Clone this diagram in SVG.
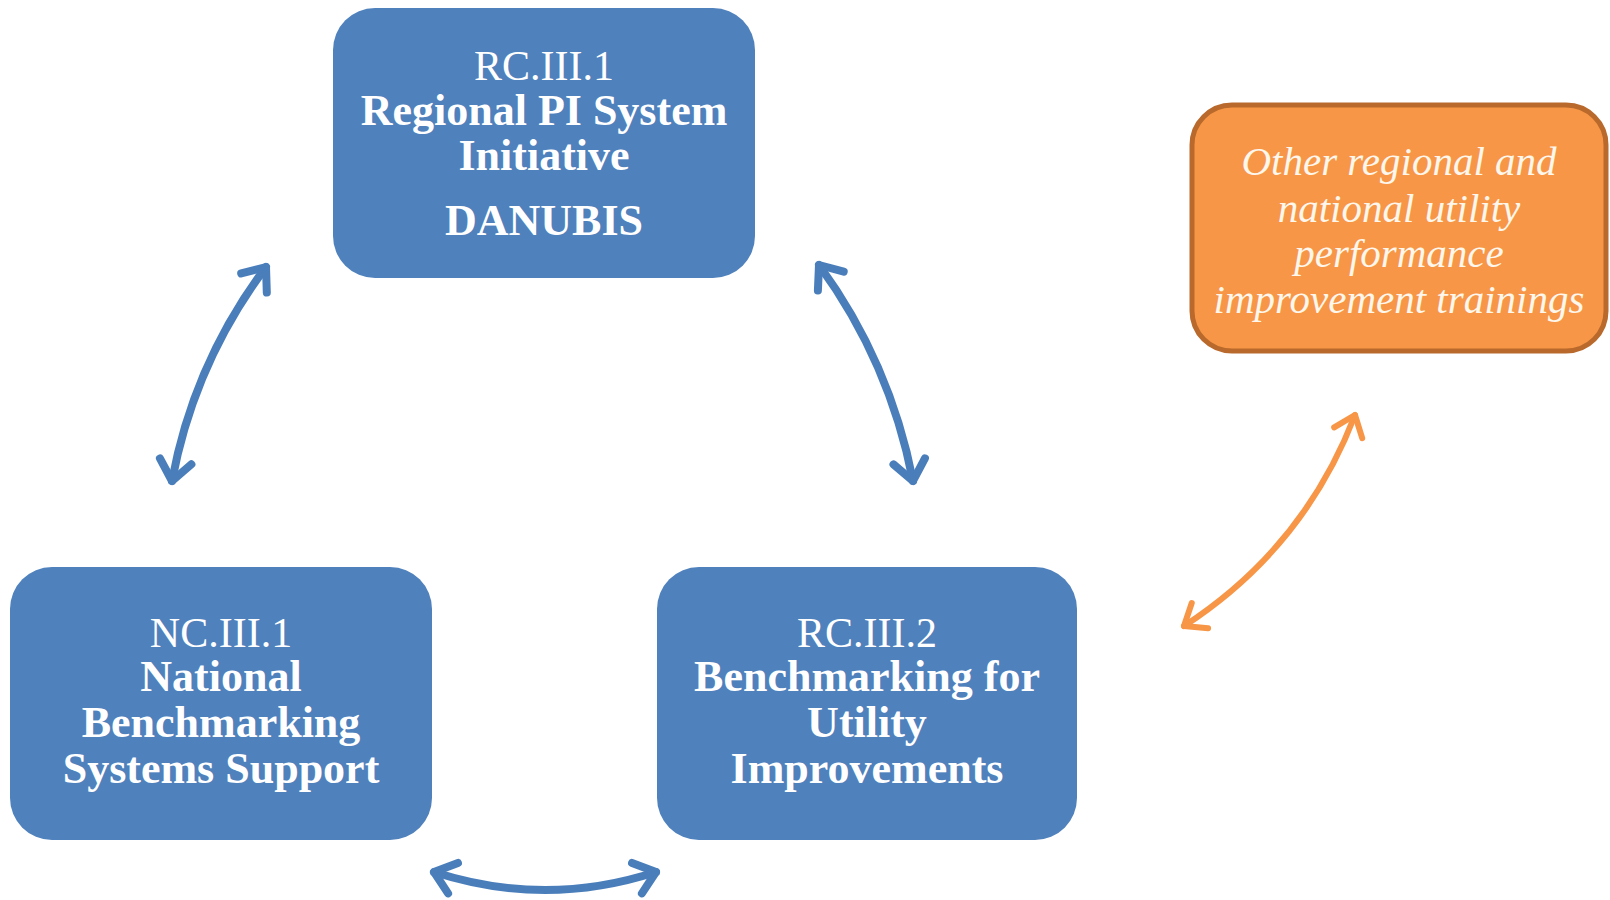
<svg xmlns="http://www.w3.org/2000/svg" width="1610" height="900" viewBox="0 0 1610 900">
<defs>
<style>
.box{fill:#4F81BD;}
.obox{fill:#F79646;stroke:#B9692B;stroke-width:5;}
.t{font-family:"Liberation Serif","Times New Roman",serif;fill:#FFFFFF;text-anchor:middle;}
.r{font-size:42px;font-weight:normal;}
.b{font-size:44px;font-weight:bold;}
.i{font-size:41px;font-style:italic;fill:#FFF7EC;}
.ab{fill:none;stroke:#4A7EBB;stroke-width:8;stroke-linecap:round;}
.ao{fill:none;stroke:#F79646;stroke-width:6;stroke-linecap:round;}
</style>
<marker id="hb" markerUnits="userSpaceOnUse" viewBox="-30 -22 36 44" markerWidth="36" markerHeight="44" refX="0" refY="0" orient="auto-start-reverse">
<path d="M-20,-16 L0,0 L-20,16" fill="none" stroke="#4A7EBB" stroke-width="8" stroke-linecap="round" stroke-linejoin="round"/>
</marker>
<marker id="ho" markerUnits="userSpaceOnUse" viewBox="-30 -22 36 44" markerWidth="36" markerHeight="44" refX="0" refY="0" orient="auto-start-reverse">
<path d="M-19,-15 L0,0 L-19,15" fill="none" stroke="#F79646" stroke-width="6" stroke-linecap="round" stroke-linejoin="round"/>
</marker>
</defs>
<rect width="1610" height="900" fill="#FFFFFF"/>
<g id="connectors">
<path class="ab" d="M172,481 Q194,363 266,267" marker-start="url(#hb)" marker-end="url(#hb)"/>
<path class="ab" d="M819,265 Q890,362 913,481" marker-start="url(#hb)" marker-end="url(#hb)"/>
<path class="ab" d="M434,872 Q545,908 656,872" marker-start="url(#hb)" marker-end="url(#hb)"/>
<path class="ao" d="M1184,626 Q1304,548 1355,415" marker-start="url(#ho)" marker-end="url(#ho)"/>
</g>
<g id="node-rc31">
<rect class="box" x="333" y="8" width="422" height="270" rx="42" ry="42"/>
<text class="t r" x="544" y="80">RC.III.1</text>
<text class="t b" x="544" y="125">Regional PI System</text>
<text class="t b" x="544" y="170">Initiative</text>
<text class="t b" x="544" y="235">DANUBIS</text>
</g>
<g id="node-other">
<rect class="obox" x="1192" y="105" width="414" height="246" rx="40" ry="40"/>
<text class="t i" x="1399" y="175">Other regional and</text>
<text class="t i" x="1399" y="222">national utility</text>
<text class="t i" x="1399" y="267">performance</text>
<text class="t i" x="1399" y="313">improvement trainings</text>
</g>
<g id="node-nc31">
<rect class="box" x="10" y="567" width="422" height="273" rx="42" ry="42"/>
<text class="t r" x="221" y="647">NC.III.1</text>
<text class="t b" x="221" y="691">National</text>
<text class="t b" x="221" y="737">Benchmarking</text>
<text class="t b" x="221" y="783">Systems Support</text>
</g>
<g id="node-rc32">
<rect class="box" x="657" y="567" width="420" height="273" rx="42" ry="42"/>
<text class="t r" x="867" y="647">RC.III.2</text>
<text class="t b" x="867" y="691">Benchmarking for</text>
<text class="t b" x="867" y="737">Utility</text>
<text class="t b" x="867" y="783">Improvements</text>
</g>
</svg>
